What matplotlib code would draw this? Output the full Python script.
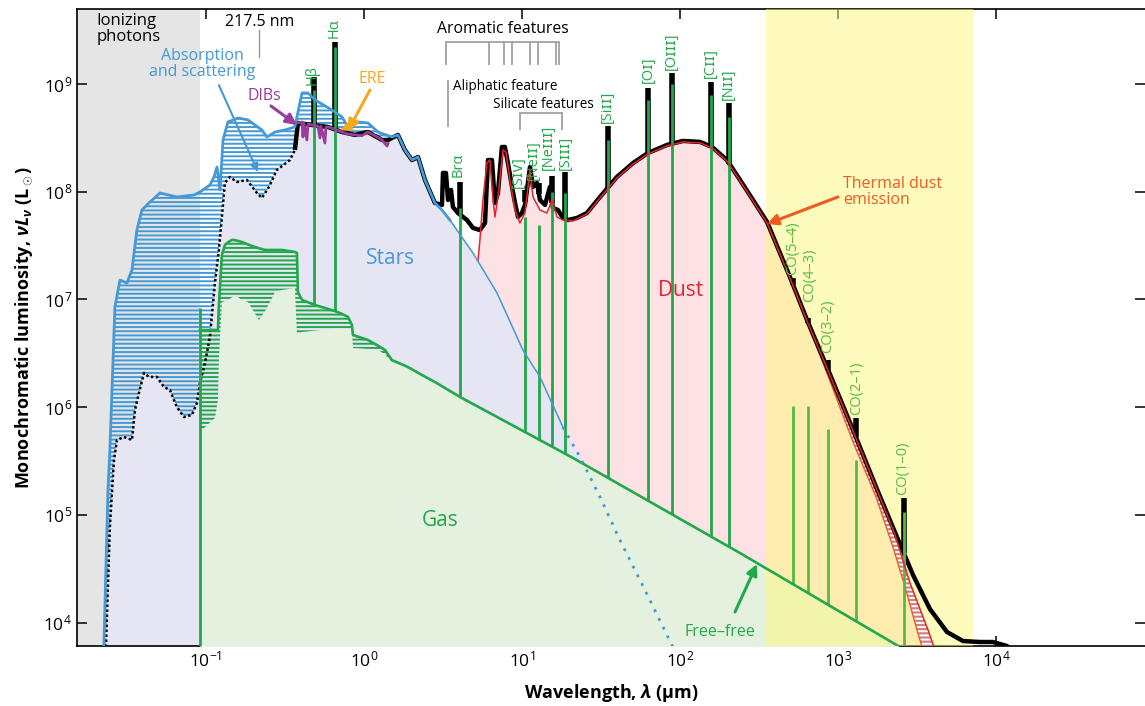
import numpy as np
import matplotlib
matplotlib.use('Agg')
import matplotlib.pyplot as plt
from matplotlib.ticker import NullLocator

plt.rcParams['font.family'] = ['Open Sans', 'DejaVu Sans']
plt.rcParams['mathtext.fontset'] = 'custom'
plt.rcParams['mathtext.rm'] = 'Open Sans'
plt.rcParams['mathtext.it'] = 'Open Sans:italic:bold'
plt.rcParams['mathtext.bf'] = 'Open Sans:bold'
plt.rcParams['hatch.linewidth'] = 1.4

# all spectra in log10(lambda / micron), log10(nu L_nu / Lsun)
# intrinsic stellar spectrum
star_lam = [-1.646, -1.620, -1.608, -1.576, -1.544, -1.500, -1.468, -1.437, -1.405, -1.361,
            -1.291, -1.184, -1.076, -1.038, -0.975, -0.949, -0.930, -0.911, -0.892, -0.861,
            -0.797, -0.734, -0.646, -0.614, -0.563, -0.500, -0.437, -0.424, -0.392, -0.354,
            -0.310, -0.203, -0.139, -0.101, -0.038, 0.025, 0.089, 0.177, 0.215, 0.259,
            0.304, 0.342, 0.386, 0.449, 0.494, 0.544, 0.690, 0.842, 1.006, 1.114, 1.259]
star_lum = [3.773, 5.230, 5.602, 6.930, 7.180, 7.152, 7.273, 7.645, 7.830, 7.895,
            7.988, 7.951, 7.969, 7.997, 8.062, 8.137, 8.229, 8.016, 8.480, 8.647,
            8.684, 8.666, 8.573, 8.508, 8.554, 8.573, 8.601, 8.694, 8.917, 8.917,
            8.852, 8.759, 8.694, 8.601, 8.647, 8.638, 8.554, 8.508, 8.527, 8.387,
            8.294, 8.322, 8.109, 7.895, 7.830, 7.737, 7.431, 7.060, 6.530, 6.280, 5.815]
# Rayleigh-Jeans tail (dotted)
tail_lam = [1.259, 1.367, 1.494, 1.620, 1.778, 1.949, 2.063]
tail_lum = [5.815, 5.537, 5.165, 4.766, 4.302, 3.791, 3.466]

# attenuated stellar spectrum (UV / optical)
att_lam = [-1.633, -1.608, -1.582, -1.563, -1.519, -1.468, -1.449, -1.424, -1.392, -1.361,
           -1.310, -1.266, -1.228, -1.184, -1.139, -1.089, -1.057, -1.038, -1.006, -0.975,
           -0.943, -0.918, -0.899, -0.880, -0.848, -0.804, -0.741, -0.677, -0.646, -0.601,
           -0.551, -0.468, -0.437, -0.418, -0.329, -0.228, -0.139, -0.057, 0.025, 0.114,
           0.152, 0.215]
att_lum = [3.773, 4.887, 5.509, 5.695, 5.722, 5.695, 5.973, 6.131, 6.317, 6.280,
           6.280, 6.187, 6.159, 6.001, 5.908, 5.927, 6.038, 6.224, 6.410, 6.651,
           7.152, 7.459, 7.765, 8.081, 8.137, 8.090, 8.109, 7.988, 7.942, 8.044,
           8.202, 8.294, 8.387, 8.638, 8.619, 8.601, 8.554, 8.527, 8.554, 8.480,
           8.480, 8.527]

# diffuse interstellar bands and extended red emission
dib_lam = [-0.418, -0.392, -0.386, -0.380, -0.361, -0.354, -0.329, -0.291, -0.278, -0.272,
           -0.247, -0.241, -0.228, -0.184, -0.139, -0.101, -0.057, -0.013, 0.025, 0.070,
           0.114, 0.146, 0.152]
dib_lum = [8.638, 8.647, 8.508, 8.638, 8.480, 8.629, 8.619, 8.610, 8.499, 8.610,
           8.452, 8.600, 8.601, 8.580, 8.554, 8.535, 8.527, 8.520, 8.554, 8.520,
           8.480, 8.424, 8.450]
ere_lam = [-0.145, -0.125, -0.108, -0.090, -0.070]
ere_lum = [8.575, 8.600, 8.635, 8.610, 8.575]

# total observed spectrum beyond 3 micron
ir_lam = [0.494, 0.500, 0.519, 0.532, 0.551, 0.563, 0.595, 0.652, 0.690, 0.734,
          0.766, 0.785, 0.810, 0.829, 0.848, 0.873, 0.892, 0.911, 0.937, 0.956,
          0.975, 1.000, 1.019, 1.051, 1.070, 1.095, 1.114, 1.146, 1.177, 1.196,
          1.228, 1.259, 1.291, 1.348, 1.411, 1.494, 1.601, 1.703, 1.797, 1.918,
          2.019, 2.127, 2.203, 2.297, 2.380, 2.462, 2.551, 2.696, 2.804, 2.930,
          3.095, 3.241, 3.373, 3.475, 3.582, 3.690, 3.791, 3.899, 3.981, 4.070, 4.184]
ir_lum = [7.877, 8.174, 8.174, 7.923, 8.016, 7.858, 7.802, 7.737, 7.663, 7.644,
          7.709, 8.294, 8.294, 7.895, 7.988, 8.415, 8.415, 8.267, 8.044, 7.895,
          7.765, 7.802, 7.877, 8.229, 8.044, 8.081, 7.923, 7.877, 8.044, 7.849,
          7.830, 7.756, 7.737, 7.756, 7.802, 7.951, 8.137, 8.266, 8.359, 8.434,
          8.471, 8.462, 8.415, 8.294, 8.109, 7.923, 7.719, 7.208, 6.809, 6.372,
          5.788, 5.258, 4.794, 4.441, 4.125, 3.912, 3.828, 3.819, 3.819, 3.782, 3.578]

# thermal dust emission
dust_lam = [0.722, 0.734, 0.753, 0.778, 0.797, 0.816, 0.829, 0.848, 0.880, 0.899,
            0.924, 0.956, 0.987, 1.019, 1.051, 1.070, 1.114, 1.158, 1.190, 1.222,
            1.259, 1.323, 1.411, 1.494, 1.601, 1.703, 1.797, 1.918, 2.019, 2.127,
            2.203, 2.297, 2.380, 2.462, 2.551, 2.696, 2.804, 2.930, 3.095, 3.241,
            3.361, 3.456, 3.570, 3.614]
dust_lum = [7.360, 7.552, 7.923, 8.267, 8.294, 7.951, 7.765, 7.951, 8.387, 8.369,
            8.109, 7.830, 7.709, 7.802, 8.202, 7.951, 7.830, 7.802, 7.923, 7.765,
            7.737, 7.728, 7.793, 7.942, 8.127, 8.257, 8.350, 8.425, 8.462, 8.453,
            8.406, 8.285, 8.100, 7.914, 7.710, 7.199, 6.800, 6.363, 5.779, 5.252,
            4.813, 4.367, 3.930, 3.745]
# lower edge of the submm dust range
band_lam = [2.804, 2.930, 3.095, 3.241, 3.348, 3.430, 3.500, 3.538]
band_lum = [6.790, 6.317, 5.676, 5.165, 4.701, 4.302, 3.930, 3.745]

# nebular gas continuum: intrinsic (hi) and attenuated (lo)
gas_lam = [-1.038, -0.943, -0.924, -0.918, -0.899, -0.880, -0.861, -0.835, -0.816, -0.772,
           -0.734, -0.690, -0.665, -0.627, -0.595, -0.563, -0.519, -0.437, -0.424, -0.418,
           -0.392, -0.310, -0.184, -0.139, -0.101, -0.076, -0.070, 0.025, 0.089, 0.133,
           0.177, 0.278, 0.367, 0.449, 0.608, 1.323, 2.380, 3.392, 3.519]
gas_hi = [6.716, 6.716, 6.716, 6.950, 7.412, 7.505, 7.530, 7.552, 7.550, 7.533,
          7.510, 7.487, 7.475, 7.459, 7.459, 7.459, 7.459, 7.440, 7.431, 7.069,
          6.995, 6.948, 6.892, 6.865, 6.837, 6.762, 6.670, 6.623, 6.570, 6.530,
          6.437, 6.372, 6.298, 6.233, 6.094, 5.528, 4.645, 3.773, 3.652]
gas_lo = [5.769, 5.900, 6.066, 6.450, 6.976, 6.985, 6.995, 7.020, 7.041, 6.995,
          6.976, 6.870, 6.809, 6.890, 6.976, 7.069, 7.087, 7.106, 6.670, 6.680,
          6.697, 6.710, 6.730, 6.734, 6.725, 6.716, 6.549, 6.540, 6.530, 6.490,
          6.419, 6.372, 6.298, 6.233, 6.094, 5.528, 4.645, 3.773, 3.652]
lyman_top = 6.92

# emission lines (wavelength in micron, tops in log L)
line_names = ['Hβ', 'Hα', 'Brα', '[Sɪᴠ]', '[Neɪɪ]', '[Neɪɪɪ]', '[Sɪɪɪ]', '[Siɪɪ]',
              '[Oɪ]', '[Oɪɪɪ]', '[Cɪɪ]', '[Nɪɪ]']
line_lam = [0.4861, 0.6563, 4.05, 10.51, 12.81, 15.55, 18.71, 34.8, 63.2, 88.4, 157.7, 205.0]
line_green = [8.944, 9.344, 7.849, 7.765, 7.691, 7.997, 7.988, 8.480, 8.852, 9.000, 8.898, 8.694]
line_black = [9.065, 9.390, 8.090, 8.016, 8.081, 8.146, 8.183, 8.610, 8.963, 9.102, 9.019, 8.824]
line_lab_lam = [0.469, 0.646, 3.94, 9.55, 11.75, 14.6, 18.7, 34.5, 62.7, 87.7, 155.0, 201.0]
line_lab_lum = [8.993, 9.427, 8.136, 8.034, 8.105, 8.202, 8.202, 8.638, 9.009, 9.130, 9.056, 8.852]

co_names = ['CO(5–4)', 'CO(4–3)', 'CO(3–2)', 'CO(2–1)', 'CO(1–0)']
co_lam = [520.2, 650.3, 867.0, 1300.4, 2600.8]
co_green = [6.010, 6.010, 5.797, 5.509, 5.026]
co_black = [7.200, 6.827, 6.437, 5.899, 5.156]
co_lab_lam = [515.0, 665.0, 864.0, 1318.0, 2579.0]
co_lab_lum = [7.225, 6.976, 6.502, 5.927, 5.184]

pah_lam = [3.3, 6.2, 7.7, 8.6, 11.3, 12.7, 16.4, 17.1]
silicate_lam = [9.7, 18.0]
aliphatic_lam = 3.4
bump_lam = 0.2175
lyman_lam = 0.0912
submm_range = [350.0, 7150.0]

blue = '#4499d6'
green = '#22a84a'
co_green_c = '#55bb45'
red = '#e3242b'
purple = '#9b3c98'
orange = '#f5a81c'
grey = '#9a9a9a'


def P(a):
    return 10.0 ** np.asarray(a, dtype=float)


star_lam = np.array(star_lam); star_lum = np.array(star_lum)
att_lam = np.array(att_lam); att_lum = np.array(att_lum)
# attenuated stars = UV/optical part + intrinsic beyond 1.6 micron + tail
sel = star_lam > att_lam[-1]
satt_x = np.concatenate([att_lam, star_lam[sel], tail_lam[1:]])
satt_y = np.concatenate([att_lum, star_lum[sel], tail_lum[1:]])
# total observed
a0 = att_lam >= -0.437
s0 = (star_lam > att_lam[-1]) & (star_lam <= 0.449)
tot_x = np.concatenate([att_lam[a0], star_lam[s0], ir_lam])
tot_y = np.concatenate([att_lum[a0], star_lum[s0], ir_lum])

fig = plt.figure(figsize=(11.45, 7.06), dpi=100)
ax = fig.add_axes([77 / 1145, 60 / 706, 1068 / 1145, 637 / 706])
ax.set_xscale('log')
ax.set_yscale('log')
xmin, xmax = 10 ** -1.816, 10 ** 4.943
ymin, ymax = 10 ** 3.782, 10 ** 9.696
floor = 1e3

# background regions
ax.axvspan(xmin, lyman_lam, color='#e5e5e5', lw=0, zorder=0)
ax.fill_between(P(dust_lam), P(dust_lum), floor, color='#fde2e5', lw=0, zorder=1)
ax.fill_between(P(satt_x), P(satt_y), floor, color='#e5e5f3', lw=0, zorder=2)
ax.fill_between(P(gas_lam), P(gas_lo), floor, color='#e4f1df', lw=0, zorder=3)
ax.axvspan(submm_range[0], submm_range[1], color='#fff97a', alpha=0.5, lw=0, zorder=4)

# attenuation hatching
hs = star_lam <= att_lam[-1]
ax.fill(np.concatenate([P(star_lam[hs]), P(att_lam[::-1])]),
        np.concatenate([P(star_lum[hs]), P(att_lum[::-1])]),
        facecolor='none', edgecolor=blue, hatch='----', lw=0, zorder=5)
ax.fill_between(P(gas_lam), P(gas_lo), P(gas_hi), facecolor='none', edgecolor=green,
                hatch='----', lw=0, zorder=5)

# submm dust range band
dust_lam_a = np.array(dust_lam); dust_lum_a = np.array(dust_lum)
db = dust_lam_a >= band_lam[0]
ax.fill(np.concatenate([P(dust_lam_a[db]), P(band_lam[::-1])]),
        np.concatenate([P(dust_lum_a[db]), P(band_lum[::-1])]),
        facecolor='#c98383', edgecolor='white', hatch='----', lw=0, zorder=5)
ax.plot(P(band_lam), P(band_lum), color='#ee5a2a', lw=1.0, zorder=6)

# total spectrum
ax.plot(P(tot_x), P(tot_y), color='black', lw=3.2, zorder=6, solid_capstyle='butt')
ax.plot(P(att_lam[att_lam <= -0.43]), P(att_lum[att_lam <= -0.43]), color='black',
        lw=1.8, ls=(0, (1, 1)), zorder=7)

# emission lines
line_lam_l = np.log10(line_lam)
co_lam_l = np.log10(co_lam)
ax.vlines(line_lam, P(np.interp(line_lam_l, tot_x, tot_y)), P(line_black),
          color='black', lw=4.0, zorder=6)
ax.vlines(co_lam, P(np.interp(co_lam_l, tot_x, tot_y)), P(co_black),
          color='black', lw=4.0, zorder=6)
ax.vlines(line_lam, P(np.interp(line_lam_l, gas_lam, gas_hi)), P(line_green),
          color=green, lw=2.0, zorder=7)
ax.vlines(co_lam, P(np.interp(co_lam_l, gas_lam, gas_hi)), P(co_green),
          color=co_green_c, lw=2.0, zorder=7)
ax.vlines([lyman_lam], floor, P(lyman_top), color=green, lw=2.0, zorder=7)

# component curves
ax.plot(P(gas_lam), P(gas_hi), color=green, lw=1.9, zorder=8)
ax.plot(P(dust_lam), P(dust_lum), color=red, lw=1.1, zorder=8)
thick = star_lam <= 0.544
ax.plot(P(star_lam[thick]), P(star_lum[thick]), color=blue, lw=2.0, zorder=8)
ax.plot(P(star_lam[star_lam >= 0.494]), P(star_lum[star_lam >= 0.494]), color=blue,
        lw=1.1, zorder=8)
ax.plot(P(tail_lam), P(tail_lum), color=blue, lw=2.0, ls=(0, (1, 2.5)), zorder=8)
ax.fill(P(ere_lam), P(ere_lum), color=orange, lw=1.0, zorder=8)
ax.plot(P(dib_lam), P(dib_lum), color=purple, lw=2.0, zorder=9)

# feature markers
ax.plot([bump_lam, bump_lam], [P(9.501), P(9.251)], color=grey, lw=1.0, zorder=9)
ax.plot([pah_lam[0], pah_lam[-1]], [P(9.390)] * 2, color=grey, lw=1.2, zorder=9)
ax.vlines(pah_lam, P(9.176), P(9.390), color=grey, lw=1.2, zorder=9)
ax.vlines([aliphatic_lam], P(8.601), P(9.037), color=grey, lw=1.2, zorder=9)
ax.plot(silicate_lam, [P(8.731)] * 2, color=grey, lw=1.2, zorder=9)
ax.vlines(silicate_lam, P(8.573), P(8.731), color=grey, lw=1.2, zorder=9)

ax.text(0.0204, P(9.655), 'Ionizing\nphotons', fontsize=12, ha='left', va='top',
        linespacing=1.0, zorder=10)
ax.text(bump_lam, P(9.576), '217.5 nm', fontsize=11.5, ha='center', va='center', zorder=10)
ax.text(0.0944, P(9.186), 'Absorption\nand scattering', fontsize=11.5, color=blue,
        ha='center', va='center', linespacing=1.0, zorder=10)
ax.text(0.233, P(8.889), 'DIBs', fontsize=11.5, color=purple, ha='center', va='center', zorder=10)
ax.text(1.124, P(9.046), 'ERE', fontsize=11.5, color=orange, ha='center', va='center', zorder=10)
ax.text(1.48, P(7.384), 'Stars', fontsize=15, color=blue, ha='center', va='center', zorder=10)
ax.text(101.4, P(7.087), 'Dust', fontsize=15, color=red, ha='center', va='center', zorder=10)
ax.text(3.03, P(4.943), 'Gas', fontsize=15, color=green, ha='center', va='center', zorder=10)
ax.text(1076, P(7.997), 'Thermal dust\nemission', fontsize=11.5, color='#f05a22',
        ha='left', va='center', linespacing=1.0, zorder=10)
ax.text(179, P(3.912), 'Free–free', fontsize=11.5, color=green, ha='center', va='center',
        zorder=10)
ax.text(7.59, P(9.511), 'Aromatic features', fontsize=11.3, ha='center', va='center', zorder=10)
ax.text(3.66, P(8.981), 'Aliphatic feature', fontsize=9.8, ha='left', va='center', zorder=10)
ax.text(6.55, P(8.814), 'Silicate features', fontsize=9.8, ha='left', va='center', zorder=10)

for name, lx, ly in zip(line_names, line_lab_lam, line_lab_lum):
    ax.text(lx, P(ly), name, rotation=90, fontsize=10.5, color=green, ha='center',
            va='bottom', zorder=10)
for name, lx, ly in zip(co_names, co_lab_lam, co_lab_lum):
    ax.text(lx, P(ly), name, rotation=90, fontsize=10.5, color=co_green_c, ha='center',
            va='bottom', zorder=10)


def arrow(tail, head, color, lw=2.2, ms=16):
    ax.annotate('', xy=head, xytext=tail, zorder=10,
                arrowprops=dict(arrowstyle='-|>', color=color, lw=lw, mutation_scale=ms,
                                shrinkA=0, shrinkB=0))


arrow((0.1208, P(8.989)), (0.2133, P(8.183)), blue, lw=1.5, ms=12)
arrow((0.2577, P(8.796)), (0.3767, P(8.619)), purple)
arrow((1.091, P(8.944)), (0.792, P(8.564)), orange)
arrow((1000, P(7.951)), (355, P(7.700)), '#f05a22')
arrow((223, P(4.098)), (307, P(4.543)), green)

ax.set_xlim(xmin, xmax)
ax.set_ylim(ymin, ymax)
ax.set_xticks([1e-1, 1e0, 1e1, 1e2, 1e3, 1e4])
ax.set_yticks([1e4, 1e5, 1e6, 1e7, 1e8, 1e9])
ax.xaxis.set_minor_locator(NullLocator())
ax.yaxis.set_minor_locator(NullLocator())
ax.tick_params(direction='in', top=True, right=True, length=7, width=1.1, labelsize=12.5)
ax.spines['right'].set_visible(False)
for s in ['left', 'top', 'bottom']:
    ax.spines[s].set_linewidth(1.2)
ax.set_xlabel(r'Wavelength, $\lambda$ (μm)', fontsize=13, fontweight='bold', labelpad=8)
ax.set_ylabel(r'Monochromatic luminosity, $\nu L_\nu$ (L$_\odot$)', fontsize=13,
              fontweight='bold', labelpad=6)

fig.savefig('out.png', dpi=100)
